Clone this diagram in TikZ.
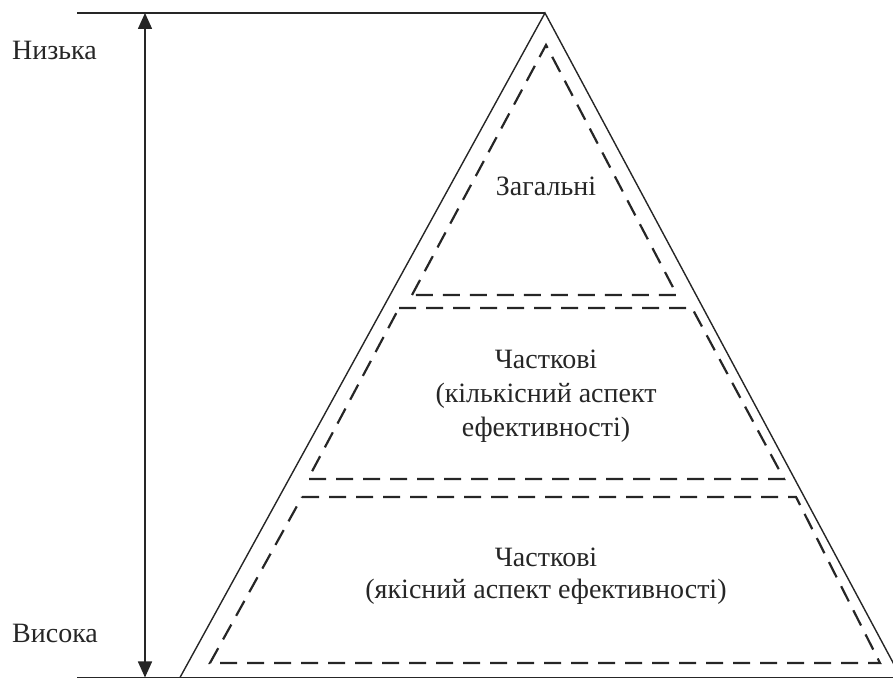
\documentclass[tikz,border=0pt]{standalone}
\usepackage{fontspec}
\setmainfont{Liberation Serif}
\usetikzlibrary{arrows.meta}
\begin{document}
\begin{tikzpicture}[x=1pt,y=1pt,
  solidline/.style={line width=1.4pt,black!85},
  dashline/.style={line width=2.2pt,black!85,dash pattern=on 17pt off 10pt,line join=miter},
  lbl/.style={font=\fontsize{28}{34}\selectfont,text=black!85,inner sep=0pt},
  blocktext/.style={lbl,align=center,anchor=base}]
\useasboundingbox (0,0) rectangle (893,679);
\clip (0,0) rectangle (893,679);
% outline
\coordinate (apex) at (545,666);
\coordinate (bl) at (180,1.5);
\coordinate (br) at (901,1.5);
\coordinate (tl) at (77,666);
\coordinate (bll) at (77,1.5);
\coordinate (brr) at (893,1.5);
\draw[solidline] (tl) -- (apex);
\draw[solidline] (bll) -- (brr);
\draw[solidline] (bl) -- (apex) -- (br);
% arrow
\coordinate (at) at (145,666);
\coordinate (ab) at (145,1.5);
\draw[line width=1.6pt,black!85,{Triangle[length=16pt,width=14pt]}-{Triangle[length=16pt,width=14pt]}] (at) -- (ab);
% dashed levels
\draw[dashline] (412,384) -- (546,634) -- (677,384) -- cycle;
\draw[dashline] (399,371) -- (692,371) -- (784,200) -- (308,200) -- cycle;
\draw[dashline] (302,182) -- (796,182) -- (880,16) -- (210,16) -- cycle;
% labels
\node[lbl,anchor=base west] (low) at (12,619) {Низька};
\node[lbl,anchor=base west] (high) at (12,36) {Висока};
\node[lbl,anchor=base] (gen) at (546,483) {Загальні};
\node[blocktext] (mid) at (546,242) {Часткові\\(кількісний аспект\\ефективності)};
\node[blocktext,font=\fontsize{28}{32}\selectfont] (bot) at (546,80) {Часткові\\(якісний аспект ефективності)};
\end{tikzpicture}
\end{document}
